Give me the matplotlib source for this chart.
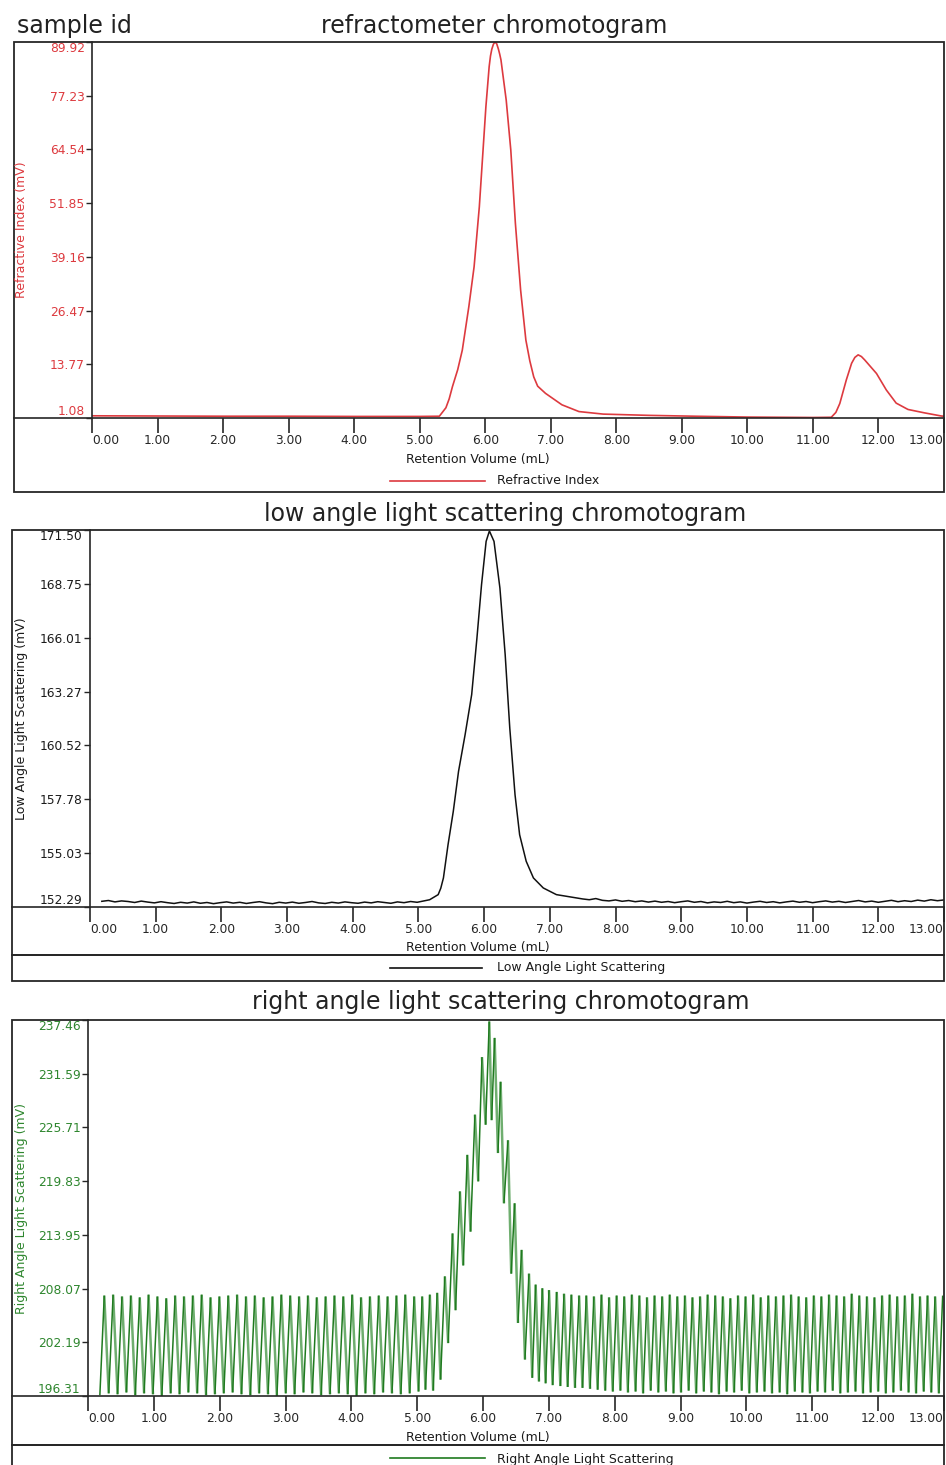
import numpy as np
import matplotlib
matplotlib.use("Agg")
import matplotlib.pyplot as plt
from matplotlib.patches import Rectangle
from matplotlib.lines import Line2D
from matplotlib.collections import LineCollection

W, H = 946, 1465

xticks = [0, 1, 2, 3, 4, 5, 6, 7, 8, 9, 10, 11, 12, 13]
xtick_labels = ["0.00", "1.00", "2.00", "3.00", "4.00", "5.00", "6.00", "7.00",
                "8.00", "9.00", "10.00", "11.00", "12.00", "13.00"]

ri_yticks = [1.08, 13.77, 26.47, 39.16, 51.85, 64.54, 77.23, 89.92]
lals_yticks = [152.29, 155.03, 157.78, 160.52, 163.27, 166.01, 168.75, 171.50]
rals_yticks = [196.31, 202.19, 208.07, 213.95, 219.83, 225.71, 231.59, 237.46]

# refractive index trace
ri_x = [0.0, 1.0, 2.0, 3.0, 4.0, 5.0, 5.30, 5.40, 5.45, 5.50, 5.58, 5.65, 5.75,
        5.83, 5.91, 5.96, 6.01, 6.06, 6.08, 6.10, 6.125, 6.15, 6.175, 6.20, 6.22,
        6.24, 6.32, 6.39, 6.46, 6.54, 6.62, 6.68, 6.74, 6.80, 6.92, 7.17, 7.43,
        7.80, 8.50, 9.20, 10.0, 11.0, 11.28, 11.35, 11.41, 11.51, 11.59, 11.64,
        11.69, 11.74, 11.79, 11.97, 12.12, 12.27, 12.45, 12.70, 12.96, 13.0]
ri_y = [1.6, 1.55, 1.5, 1.5, 1.45, 1.45, 1.5, 3.5, 5.6, 8.5, 12.5, 17.1, 27.4,
        36.8, 51.0, 62.8, 74.6, 84.1, 86.6, 88.2, 89.4, 89.9, 89.5, 88.3, 87.1,
        85.7, 76.2, 64.4, 47.1, 31.3, 19.5, 14.6, 10.8, 8.6, 6.9, 4.2, 2.6,
        2.0, 1.7, 1.5, 1.3, 1.2, 1.25, 2.4, 4.5, 10.1, 14.0, 15.4,
        16.0, 15.6, 14.8, 11.6, 7.7, 4.6, 3.1, 2.3, 1.55, 1.5]

# low angle light scattering: noisy baseline left / peak / baseline right
lals_base_left = [152.58, 152.62, 152.55, 152.60, 152.57, 152.52, 152.59, 152.54,
                  152.50, 152.56, 152.51, 152.47, 152.53, 152.49, 152.55, 152.48,
                  152.52, 152.46, 152.51, 152.55, 152.49, 152.53, 152.47, 152.52,
                  152.56, 152.50, 152.46, 152.53, 152.49, 152.54, 152.48, 152.52,
                  152.57, 152.50, 152.47, 152.53, 152.49, 152.55, 152.51, 152.48,
                  152.54, 152.50, 152.56, 152.52, 152.48, 152.55, 152.51, 152.57,
                  152.53, 152.60]
lals_peak_x = [5.17, 5.30, 5.34, 5.38, 5.45, 5.53, 5.61, 5.71, 5.81, 5.89, 5.96,
               6.03, 6.08, 6.15, 6.24, 6.32, 6.39, 6.47, 6.54, 6.64, 6.75, 6.90,
               7.10, 7.41]
lals_peak_y = [152.66, 152.92, 153.25, 153.77, 155.46, 157.16, 159.20, 161.07,
               163.11, 165.99, 168.71, 170.92, 171.45, 170.92, 168.54, 165.15,
               161.41, 158.01, 155.97, 154.62, 153.77, 153.26, 152.92, 152.75]
lals_base_right = [152.70, 152.66, 152.72, 152.63, 152.60, 152.65, 152.58, 152.62,
                   152.56, 152.60, 152.54, 152.59, 152.53, 152.57, 152.51, 152.56,
                   152.60, 152.53, 152.57, 152.50, 152.55, 152.52, 152.58, 152.51,
                   152.55, 152.49, 152.54, 152.58, 152.52, 152.56, 152.50, 152.55,
                   152.59, 152.53, 152.57, 152.51, 152.56, 152.60, 152.54, 152.58,
                   152.52, 152.57, 152.62, 152.55, 152.59, 152.53, 152.58, 152.63,
                   152.56, 152.61, 152.57, 152.64, 152.59, 152.66, 152.61, 152.65]

# right angle light scattering: oscillating baseline (troughs / tops), peak zone
rals_left_lows = [196.4, 196.6, 196.5, 196.7, 196.4, 196.6, 196.5, 196.3, 196.6,
                  196.5, 196.7, 196.6, 196.4, 196.5, 196.6, 196.7, 196.5, 196.4,
                  196.6, 196.5, 196.3, 196.6, 196.5, 196.7, 196.6, 196.4, 196.5,
                  196.6, 196.5, 196.3, 196.6, 196.5, 196.7, 196.6, 196.5, 196.6, 196.8]
rals_left_highs = [207.3, 207.4, 207.2, 207.3, 207.1, 207.4, 207.2, 207.0, 207.3,
                   207.2, 207.3, 207.4, 207.1, 207.2, 207.3, 207.4, 207.2, 207.3,
                   207.1, 207.2, 207.4, 207.3, 207.2, 207.3, 207.1, 207.2, 207.3,
                   207.2, 207.4, 207.1, 207.2, 207.3, 207.2, 207.3, 207.4, 207.2]
rals_mid_x = [5.075, 5.125, 5.191, 5.242, 5.303, 5.354, 5.419, 5.470, 5.536, 5.582,
              5.648, 5.699, 5.760, 5.810, 5.876, 5.927, 5.983, 6.039, 6.094, 6.130,
              6.175, 6.226, 6.266, 6.317, 6.378, 6.428, 6.479, 6.530, 6.585, 6.636,
              6.697, 6.747, 6.798, 6.849, 6.900, 6.950, 7.001, 7.057, 7.118, 7.174,
              7.229, 7.285, 7.341, 7.397, 7.458]
rals_mid_y = [207.2, 197.0, 207.4, 196.9, 207.6, 198.1, 209.4, 202.1, 214.1, 205.7,
              218.7, 210.6, 222.7, 214.3, 227.1, 219.8, 233.4, 226.0, 237.3, 226.5,
              235.5, 222.9, 230.7, 217.4, 224.3, 209.7, 217.4, 204.3, 212.3, 200.3,
              209.7, 198.3, 208.5, 197.9, 208.1, 197.7, 207.9, 197.5, 207.7, 197.4,
              207.5, 197.3, 207.4, 197.2, 207.3]
rals_right_lows = [197.2, 197.1, 197.0, 196.9, 196.8, 196.9, 196.7, 196.8, 196.6,
                   196.9, 196.7, 196.8, 196.6, 196.7, 196.9, 196.6, 196.8, 196.7,
                   196.5, 196.8, 196.7, 196.9, 196.6, 196.7, 196.8, 196.6, 196.7,
                   196.5, 196.8, 196.7, 196.6, 196.8, 196.7, 196.9, 196.6, 196.7,
                   196.8, 196.6, 196.7, 196.8, 196.6, 196.7, 196.9, 196.7, 196.6,
                   196.8, 196.7, 196.6]
rals_right_highs = [207.3, 207.2, 207.4, 207.1, 207.3, 207.2, 207.4, 207.3, 207.1,
                    207.3, 207.2, 207.4, 207.2, 207.3, 207.1, 207.2, 207.4, 207.3,
                    207.2, 207.0, 207.3, 207.2, 207.4, 207.1, 207.3, 207.2, 207.3,
                    207.4, 207.2, 207.1, 207.3, 207.2, 207.4, 207.3, 207.2, 207.5,
                    207.3, 207.2, 207.1, 207.3, 207.4, 207.2, 207.3, 207.5, 207.2,
                    207.3, 207.2, 207.3]


def interleave(lows, highs):
    out = []
    for i in range(max(len(lows), len(highs))):
        if i < len(lows):
            out.append(lows[i])
        if i < len(highs):
            out.append(highs[i])
    return out


lals_x = np.concatenate([np.linspace(0.18, 5.08, len(lals_base_left)), lals_peak_x,
                         np.linspace(7.5, 13.0, len(lals_base_right))])
lals_y = np.concatenate([lals_base_left, lals_peak_y, lals_base_right])

left_seq = interleave(rals_left_lows, rals_left_highs)
right_seq = interleave(rals_right_lows, rals_right_highs)
rals_x = np.concatenate([np.linspace(0.18, 5.02, len(left_seq)), rals_mid_x,
                         np.linspace(7.51, 12.98, len(right_seq))])
rals_y = np.concatenate([left_seq, rals_mid_y, right_seq])


def frect(x0, y0, x1, y1):
    return [x0 / W, 1 - y1 / H, (x1 - x0) / W, (y1 - y0) / H]


fig = plt.figure(figsize=(W / 100, H / 100), dpi=100)
edge = "#262626"


def panel(title, title_x, title_y, box, legend_box, ax_px, yticks, tick_color,
          ylabel, legend_label, legend_y, xlabel_y):
    x0, y0, x1, y1 = box
    fig.add_artist(Rectangle((x0 / W, 1 - y1 / H), (x1 - x0) / W, (y1 - y0) / H,
                             transform=fig.transFigure, fill=False, lw=1.3, ec=edge))
    if legend_box is not None:
        lx0, ly0, lx1, ly1 = legend_box
        fig.add_artist(Rectangle((lx0 / W, 1 - ly1 / H), (lx1 - lx0) / W,
                                 (ly1 - ly0) / H, transform=fig.transFigure,
                                 fill=False, lw=1.3, ec=edge))
    fig.text(title_x / W, 1 - title_y / H, title, ha="center", va="center",
             fontsize=17, color="#222222")

    ax = fig.add_axes(frect(*ax_px))
    ax.set_xlim(0, 13)
    ax.set_ylim(yticks[0], yticks[-1])
    ax.set_xticks(xticks, xtick_labels)
    ax.set_yticks(yticks, ["%.2f" % v for v in yticks])
    for s in ("top", "right", "bottom"):
        ax.spines[s].set_visible(False)
    ax.spines["left"].set_color(edge)
    ax.spines["left"].set_linewidth(1.2)
    ax.tick_params(axis="x", direction="out", length=10.8, width=1.2, pad=1,
                   labelsize=8.8, colors=edge)
    ax.tick_params(axis="y", direction="out", length=4.3, width=1.0, pad=1,
                   labelsize=8.8, colors=edge, labelcolor=tick_color)
    xl = ax.get_xticklabels()
    xl[0].set_ha("left")
    xl[-1].set_ha("right")
    yl = ax.get_yticklabels()
    yl[0].set_va("bottom")
    yl[-1].set_va("top")

    # axis line across the whole box
    yb = 1 - ax_px[3] / H
    fig.add_artist(Line2D([x0 / W, x1 / W], [yb, yb], transform=fig.transFigure,
                          color=edge, lw=1.2))
    fig.text(478 / W, 1 - xlabel_y / H, "Retention Volume (mL)", ha="center",
             va="center", fontsize=9, color="#1a1a1a")
    fig.text(22 / W, 1 - (ax_px[1] + ax_px[3]) / 2 / H, ylabel, rotation=90,
             ha="center", va="center", fontsize=9, color=tick_color)
    fig.text(497 / W, 1 - legend_y / H, legend_label, ha="left", va="center",
             fontsize=9, color="#1a1a1a")
    return ax


red = "#dd3a3f"
green = "#1f7a1f"
mid_green = "#6fae6f"

ax1 = panel("refractometer chromotogram", 494, 26, (14, 42, 944, 492), None,
            (92, 42, 944, 418), ri_yticks, red, "Refractive Index (mV)",
            "Refractive Index", 481, 459)
fig.text(17 / W, 1 - 26 / H, "sample id", ha="left", va="center", fontsize=17,
         color="#222222")
ax1.plot(ri_x, ri_y, color=red, lw=1.2)
fig.add_artist(Line2D([390 / W, 485 / W], [1 - 481 / H] * 2,
                      transform=fig.transFigure, color=red, lw=1.2))

ax2 = panel("low angle light scattering chromotogram", 505, 514,
            (12, 530, 944, 955), (12, 955, 944, 981), (90, 530, 944, 907),
            lals_yticks, "#1a1a1a", "Low Angle Light Scattering (mV)",
            "Low Angle Light Scattering", 968, 948)
ax2.plot(lals_x, lals_y, color="#111111", lw=1.1)
fig.add_artist(Line2D([390 / W, 482 / W], [1 - 968 / H] * 2,
                      transform=fig.transFigure, color="#111111", lw=1.2))

ax3 = panel("right angle light scattering chromotogram", 501, 1002,
            (12, 1020, 944, 1445), (12, 1445, 944, 1485), (88, 1020, 944, 1396),
            rals_yticks, "#2e862e", "Right Angle Light Scattering (mV)",
            "Right Angle Light Scattering", 1459, 1437)
# rising strokes dark, falling strokes lighter, like the original trace
segs = np.stack([np.column_stack([rals_x[:-1], rals_y[:-1]]),
                 np.column_stack([rals_x[1:], rals_y[1:]])], axis=1)
rising = np.diff(rals_y) > 0
ax3.add_collection(LineCollection(segs[~rising], colors=mid_green, linewidths=1.8))
ax3.add_collection(LineCollection(segs[rising], colors=green, linewidths=1.1))
fig.add_artist(Line2D([390 / W, 485 / W], [1 - 1458 / H] * 2,
                      transform=fig.transFigure, color=green, lw=1.2))

fig.savefig("out.png", dpi=100)
